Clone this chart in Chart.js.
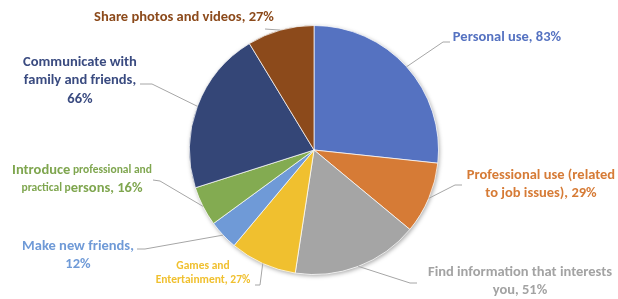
<!DOCTYPE html>
<html>
<head>
<meta charset="utf-8">
<script src="https://cdn.jsdelivr.net/npm/chart.js@4.4.1/dist/chart.umd.min.js"></script>
<style>
  html, body { margin: 0; padding: 0; background: #fff; }
  #wrap { width: 618px; height: 299px; }
</style>
</head>
<body>
<div id="wrap"><canvas id="pie" width="618" height="299"></canvas></div>
<script>
// Chart data
const categories = [
    "Personal use",
    "Professional use (related to job issues)",
    "Find information that interests you",
    "Games and Entertainment",
    "Make new friends",
    "Introduce professional and practical persons",
    "Communicate with family and friends",
    "Share photos and videos"
];
const percents = [83, 29, 51, 27, 12, 16, 66, 27];
const sliceColors = ["#5572C1", "#D67B36", "#A5A5A5", "#F0C02F", "#6F9AD7", "#83AB51", "#344677", "#8C4A1B"];
const labelColors = ["#5572C1", "#D67B36", "#A3A3A3", "#F0C02F", "#6F9AD7", "#7FA64F", "#3A4B80", "#8C4A1B"];

const FONT = "Carlito, Lato, sans-serif";
const BIG = 14.5, SMALL = 11.5;

// label layout: lines are lists of [text, size] runs, x = centre of text block
const labelLayout = [
    { x: 507, y: 37, lh: 18, lines: [[["Personal use, " + percents[0] + "%", BIG]]], leader: [[450, 42], [443, 42]] },
    { x: 541, y: 175, lh: 18, lines: [[["Professional use (related", BIG]], [["to job issues), " + percents[1] + "%", BIG]]], leader: [[462, 185], [455, 185]] },
    { x: 520, y: 272, lh: 18, lines: [[["Find information that interests", BIG]], [["you, " + percents[2] + "%", BIG]]], leader: [[417, 283], [410, 283]] },
    { x: 203, y: 266, lh: 14, lines: [[["Games and", SMALL]], [["Entertainment, " + percents[3] + "%", SMALL]]], leader: [[255, 285], [260, 285]] },
    { x: 78, y: 246, lh: 18, lines: [[["Make new friends,", BIG]], [[percents[4] + "%", BIG]]], leader: [[137, 249], [145, 249]] },
    { x: 82, y: 170, lh: 18, lines: [[["Introduce", BIG], [" professional and", SMALL]], [["practical p", SMALL], ["ersons, " + percents[5] + "%", BIG]]], leader: [[153, 180], [160, 181]] },
    { x: 80, y: 62, lh: 18.5, lines: [[["Communicate with", BIG]], [["family and friends,", BIG]], [[percents[6] + "%", BIG]]], leader: [[140, 84], [152, 84]] },
    { x: 184, y: 17, lh: 18, lines: [[["Share photos and videos, " + percents[7] + "%", BIG]]], leader: [[265, 29]] }
];

// soft shadow under the pie
const pieShadow = {
    id: "pieShadow",
    beforeDatasetsDraw(chart) {
        const arc = chart.getDatasetMeta(0).data[0];
        if (!arc) return;
        const ctx = chart.ctx;
        ctx.save();
        ctx.shadowColor = "rgba(0,0,0,0.35)";
        ctx.shadowBlur = 4;
        ctx.shadowOffsetX = 1;
        ctx.shadowOffsetY = 1.5;
        ctx.fillStyle = "#fff";
        ctx.beginPath();
        ctx.arc(arc.x, arc.y, arc.outerRadius, 0, Math.PI * 2);
        ctx.fill();
        ctx.restore();
    }
};

// labels with leader lines from each slice's mid angle
const sliceLabels = {
    id: "sliceLabels",
    afterDatasetsDraw(chart) {
        const ctx = chart.ctx;
        const arcs = chart.getDatasetMeta(0).data;
        ctx.save();
        labelLayout.forEach((lab, i) => {
            const a = arcs[i];
            const mid = (a.startAngle + a.endAngle) / 2;
            const sx = a.x + Math.cos(mid) * a.outerRadius;
            const sy = a.y + Math.sin(mid) * a.outerRadius;

            // leader
            ctx.strokeStyle = "#A6A6A6";
            ctx.lineWidth = 1;
            ctx.beginPath();
            ctx.moveTo(lab.leader[0][0], lab.leader[0][1]);
            lab.leader.slice(1).forEach(p => ctx.lineTo(p[0], p[1]));
            ctx.lineTo(sx, sy);
            ctx.stroke();

            // text
            ctx.fillStyle = labelColors[i];
            ctx.textBaseline = "middle";
            ctx.textAlign = "left";
            lab.lines.forEach((runs, li) => {
                let total = 0;
                runs.forEach(r => {
                    ctx.font = "bold " + r[1] + "px " + FONT;
                    total += ctx.measureText(r[0]).width;
                });
                let x = lab.x - total / 2;
                const y = lab.y + li * lab.lh;
                runs.forEach(r => {
                    ctx.font = "bold " + r[1] + "px " + FONT;
                    ctx.fillText(r[0], x, y);
                    x += ctx.measureText(r[0]).width;
                });
            });
        });
        ctx.restore();
    }
};

const chart = new Chart(document.getElementById("pie"), {
    type: "pie",
    data: {
        labels: categories,
        datasets: [{
            data: percents,
            backgroundColor: sliceColors,
            borderColor: "rgba(255,255,255,0.7)",
            borderWidth: 1
        }]
    },
    options: {
        responsive: false,
        animation: false,
        layout: { padding: { left: 189, right: 179, top: 25, bottom: 24 } },
        plugins: {
            legend: { display: false },
            tooltip: { enabled: false }
        }
    },
    plugins: [pieShadow, sliceLabels]
});
</script>
</body>
</html>
